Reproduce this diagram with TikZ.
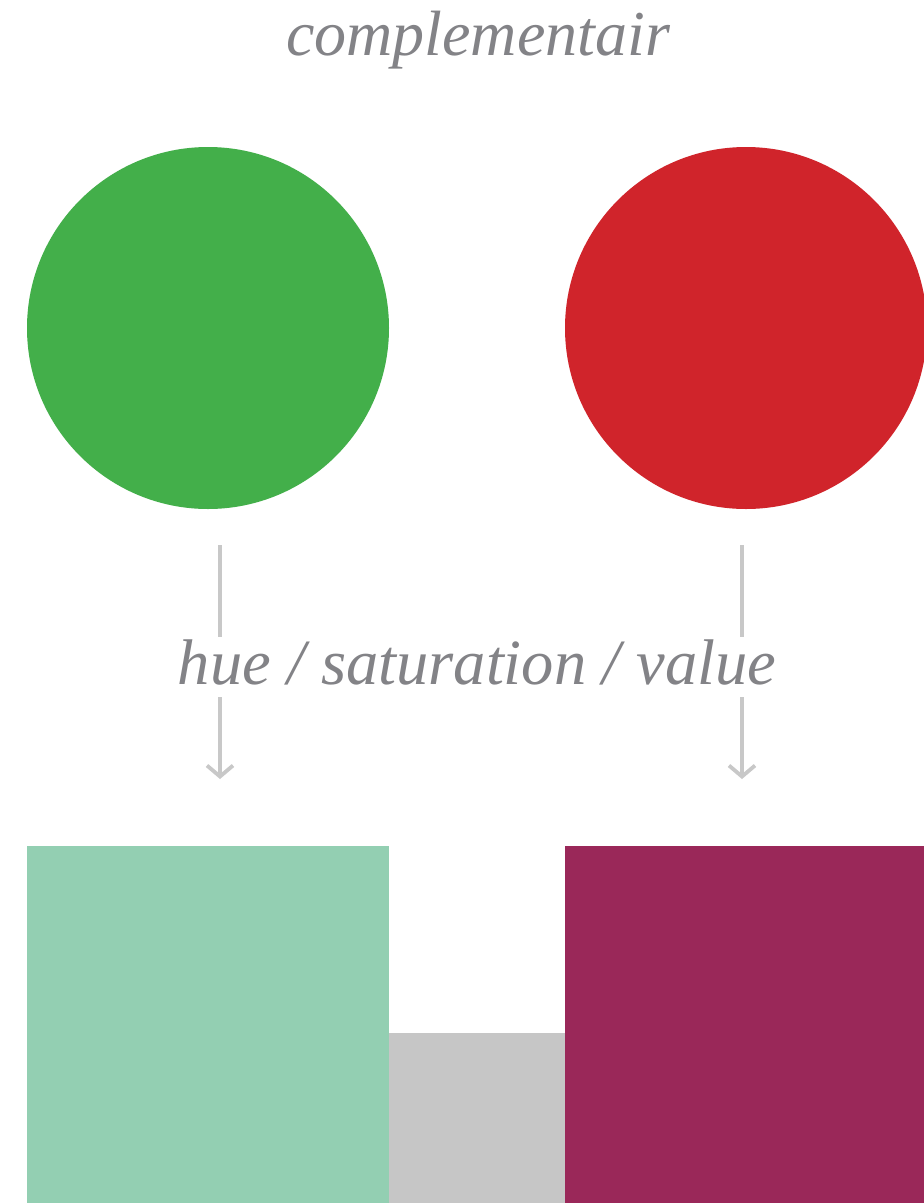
\documentclass[tikz,border=0pt]{standalone}
\usepackage{fontspec}
\setmainfont{Liberation Serif}
\usetikzlibrary{arrows.meta}
\definecolor{cgreen}{HTML}{43AF4A}
\definecolor{cred}{HTML}{D0242B}
\definecolor{cmint}{HTML}{93CFB2}
\definecolor{cgrey}{HTML}{C6C6C6}
\definecolor{cmaroon}{HTML}{9A2859}
\definecolor{ctext}{HTML}{838387}
\definecolor{carrow}{HTML}{C8C8C8}
\tikzset{
  lbl/.style={font=\itshape, text=ctext, inner sep=0pt, anchor=base},
  conn/.style={draw=carrow, line width=3.8pt},
  conntip/.style={conn, -{Straight Barb[length=11pt,width=26pt,line width=3.8pt]}},
  blob/.style={circle, draw=none, inner sep=0pt, minimum size=362pt},
  block/.style={draw=none}
}
\begin{document}
\begin{tikzpicture}[x=1pt,y=-1pt]
\useasboundingbox (0,0) rectangle (924,1203);
\fill[white] (0,0) rectangle (924,1203);
\node[lbl, font=\itshape\fontsize{64}{70}\selectfont] (title) at (478,55) {complementair};
\node[blob, fill=cgreen] (g) at (208,328) {};
\node[blob, fill=cred] (r) at (746,328) {};
\node[lbl, font=\itshape\fontsize{64.5}{70}\selectfont] (hsv) at (477,684) {hue / saturation / value};
\coordinate (gA) at (220,545);
\coordinate (gB) at (220,637);
\coordinate (gC) at (220,697);
\coordinate (gD) at (220,779);
\coordinate (rA) at (742,545);
\coordinate (rB) at (742,637);
\coordinate (rC) at (742,697);
\coordinate (rD) at (742,779);
\draw[conn] (gA) -- (gB);
\draw[conntip] (gC) -- (gD);
\draw[conn] (rA) -- (rB);
\draw[conntip] (rC) -- (rD);
\fill[cmint] (27,846) rectangle (389,1203);
\fill[cgrey] (389,1033) rectangle (565,1203);
\fill[cmaroon] (565,846) rectangle (924,1203);
\end{tikzpicture}
\end{document}
